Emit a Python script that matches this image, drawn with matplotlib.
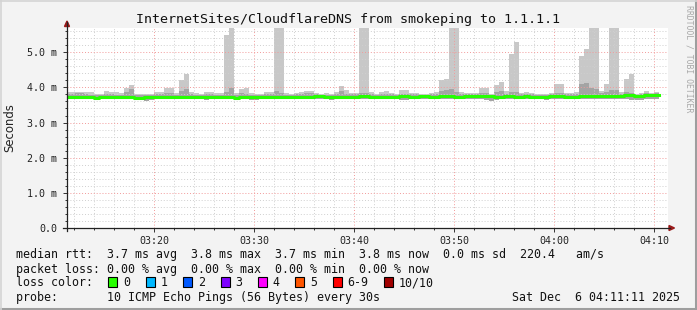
import numpy as np
import pandas as pd
import matplotlib
matplotlib.use("Agg")
import matplotlib.pyplot as plt
import matplotlib.dates as mdates
from matplotlib.ticker import MultipleLocator, FuncFormatter
from matplotlib.patches import Polygon, Rectangle
from matplotlib.lines import Line2D

# data: 30 s steps starting 03:11:00, values in ms
start = "2025-12-06 03:11:00"
rtt_max = [
    3.88, 3.88, 3.88, 3.88, 3.86, 3.86, 3.82, 3.82, 3.90, 3.88,
    3.86, 3.84, 3.97, 4.06, 3.82, 3.82, 3.80, 3.82, 3.86, 3.88,
    3.98, 3.98, 3.84, 4.20, 4.37, 3.88, 3.85, 3.82, 3.88, 3.88,
    3.84, 3.84, 5.48, 5.80, 3.85, 3.95, 3.98, 3.84, 3.80, 3.82,
    3.88, 3.88, 5.80, 5.80, 3.84, 3.82, 3.85, 3.88, 3.90, 3.90,
    3.85, 3.82, 3.84, 3.82, 3.88, 4.04, 3.92, 3.85, 3.85, 5.80,
    5.80, 3.88, 3.82, 3.86, 3.90, 3.85, 3.82, 3.92, 3.92, 3.85,
    3.84, 3.80, 3.80, 3.84, 3.88, 4.20, 4.23, 5.80, 5.80, 3.88,
    3.85, 3.84, 3.85, 3.99, 3.99, 3.82, 4.08, 4.15, 3.90, 4.96,
    5.30, 3.85, 3.88, 3.84, 3.82, 3.82, 3.80, 3.84, 4.10, 4.10,
    3.84, 3.84, 3.88, 4.90, 5.08, 5.80, 5.80, 3.90, 4.10, 5.80,
    5.80, 3.88, 4.23, 4.37, 3.82, 3.85, 3.90, 3.85, 3.88]
rtt_q75 = [
    3.80, 3.82, 3.85, 3.84, 3.80, 3.79, 3.77, 3.78, 3.80, 3.80,
    3.79, 3.79, 3.88, 3.95, 3.77, 3.77, 3.77, 3.78, 3.80, 3.80,
    3.85, 3.85, 3.79, 3.90, 3.95, 3.80, 3.78, 3.77, 3.80, 3.80,
    3.79, 3.79, 3.88, 3.98, 3.78, 3.84, 3.82, 3.79, 3.77, 3.78,
    3.80, 3.80, 3.90, 3.85, 3.79, 3.78, 3.80, 3.82, 3.85, 3.84,
    3.80, 3.78, 3.79, 3.78, 3.80, 3.90, 3.82, 3.80, 3.80, 3.85,
    3.85, 3.80, 3.78, 3.80, 3.82, 3.80, 3.78, 3.82, 3.82, 3.80,
    3.80, 3.78, 3.78, 3.80, 3.82, 3.90, 3.92, 3.95, 3.88, 3.82,
    3.80, 3.80, 3.80, 3.85, 3.85, 3.79, 3.88, 3.90, 3.82, 3.88,
    3.88, 3.80, 3.82, 3.80, 3.79, 3.79, 3.78, 3.80, 3.85, 3.85,
    3.80, 3.80, 3.82, 4.10, 4.13, 3.98, 3.95, 3.85, 3.88, 3.92,
    3.92, 3.82, 3.88, 3.85, 3.79, 3.80, 3.84, 3.82, 3.83]
rtt_min = [
    3.67, 3.67, 3.66, 3.66, 3.67, 3.67, 3.66, 3.66, 3.67, 3.67,
    3.67, 3.66, 3.66, 3.66, 3.65, 3.65, 3.62, 3.63, 3.67, 3.66,
    3.66, 3.66, 3.67, 3.67, 3.66, 3.66, 3.66, 3.66, 3.65, 3.66,
    3.66, 3.66, 3.67, 3.67, 3.65, 3.66, 3.66, 3.64, 3.65, 3.66,
    3.67, 3.67, 3.66, 3.66, 3.67, 3.67, 3.67, 3.66, 3.66, 3.67,
    3.67, 3.67, 3.66, 3.64, 3.66, 3.67, 3.67, 3.67, 3.66, 3.67,
    3.67, 3.67, 3.67, 3.66, 3.66, 3.66, 3.66, 3.64, 3.65, 3.67,
    3.67, 3.66, 3.66, 3.66, 3.67, 3.67, 3.67, 3.67, 3.68, 3.68,
    3.67, 3.67, 3.67, 3.66, 3.63, 3.62, 3.64, 3.66, 3.67, 3.67,
    3.67, 3.67, 3.67, 3.67, 3.66, 3.66, 3.65, 3.67, 3.67, 3.67,
    3.66, 3.66, 3.67, 3.67, 3.68, 3.68, 3.68, 3.68, 3.68, 3.67,
    3.67, 3.66, 3.66, 3.65, 3.64, 3.65, 3.67, 3.68, 3.68]
rtt_median = [
    3.74, 3.74, 3.74, 3.74, 3.74, 3.73, 3.71, 3.72, 3.73, 3.73,
    3.73, 3.73, 3.72, 3.72, 3.70, 3.70, 3.73, 3.73, 3.73, 3.72,
    3.73, 3.74, 3.74, 3.73, 3.73, 3.73, 3.72, 3.72, 3.74, 3.73,
    3.72, 3.72, 3.73, 3.73, 3.71, 3.74, 3.73, 3.73, 3.73, 3.73,
    3.73, 3.73, 3.73, 3.73, 3.74, 3.74, 3.73, 3.73, 3.74, 3.74,
    3.75, 3.75, 3.74, 3.74, 3.73, 3.74, 3.74, 3.73, 3.73, 3.75,
    3.75, 3.74, 3.73, 3.73, 3.74, 3.74, 3.74, 3.75, 3.75, 3.74,
    3.74, 3.75, 3.75, 3.74, 3.74, 3.75, 3.75, 3.75, 3.74, 3.74,
    3.75, 3.75, 3.75, 3.76, 3.76, 3.75, 3.74, 3.74, 3.75, 3.75,
    3.74, 3.74, 3.75, 3.74, 3.74, 3.73, 3.73, 3.75, 3.75, 3.75,
    3.74, 3.74, 3.74, 3.75, 3.75, 3.75, 3.75, 3.76, 3.75, 3.75,
    3.76, 3.76, 3.77, 3.77, 3.76, 3.76, 3.78, 3.78, 3.79]

loss_labels = ["0", "1", "2", "3", "4", "5", "6-9", "10/10"]
loss_colors = ["#26ff00", "#00b8ff", "#0059ff", "#7e00ff", "#ff00ff",
               "#ff5500", "#ff0000", "#a10000"]

title = "InternetSites/CloudflareDNS from smokeping to 1.1.1.1"
line1 = "median rtt:  3.7 ms avg  3.8 ms max  3.7 ms min  3.8 ms now  0.0 ms sd  220.4   am/s"
line2 = "packet loss: 0.00 % avg  0.00 % max  0.00 % min  0.00 % now"
line4 = "probe:       10 ICMP Echo Pings (56 Bytes) every 30s"
stamp = "Sat Dec  6 04:11:11 2025"

W, H = 697, 310
mono = "DejaVu Sans Mono"

def fx(px):
    return px / W

def fy(py):
    return 1 - py / H

fig = plt.figure(figsize=(W / 100, H / 100), dpi=100, facecolor="#f3f3f3")
ax = fig.add_axes([fx(67), fy(228), (668 - 67) / W, (228 - 28) / H])
ax.set_facecolor("white")

times = pd.date_range(start, periods=len(rtt_max), freq="30s")
x = mdates.date2num(times.to_pydatetime())
step = 30 / 86400
top = np.array(rtt_max)
q75 = np.array(rtt_q75)
low = np.array(rtt_min)
med = np.array(rtt_median)

ax.bar(x, top - q75, bottom=q75, width=step, align="edge", color="#c8c8c8", linewidth=0, zorder=1)
ax.bar(x, q75 - low, bottom=low, width=step, align="edge", color="#a4a4a4", linewidth=0, zorder=1)
xs = np.append(x, x[-1] + step)
ys = np.append(med, med[-1])
ax.step(xs, ys, where="post", color=loss_colors[0], lw=2.2, zorder=3)

ax.set_ylim(0, 5.69)
ax.set_xlim(mdates.date2num(pd.Timestamp("2025-12-06 03:11:16")),
            mdates.date2num(pd.Timestamp("2025-12-06 04:11:22")))

ax.yaxis.set_major_locator(MultipleLocator(1))
ax.yaxis.set_minor_locator(MultipleLocator(0.2))
ax.xaxis.set_major_locator(mdates.MinuteLocator(byminute=range(0, 60, 10)))
ax.xaxis.set_minor_locator(mdates.MinuteLocator(byminute=range(0, 60, 2)))
ax.xaxis.set_major_formatter(mdates.DateFormatter("%H:%M"))
ax.yaxis.set_major_formatter(FuncFormatter(lambda v, p: "0.0" if v == 0 else "%.1f m" % v))

ax.grid(which="minor", color="#cfcfcf", linestyle=(0, (1, 2)), lw=0.7, zorder=2)
ax.grid(which="major", color="#f29a9a", linestyle=(0, (1, 2)), lw=0.7, zorder=2)
ax.set_axisbelow(False)

for s in ax.spines.values():
    s.set_visible(False)
ax.tick_params(which="major", length=3, width=0.7, color="#333333", labelsize=7.2, pad=3)
ax.tick_params(which="minor", length=1.5, width=0.7, color="#333333")
ax.tick_params(axis="y", pad=4)
for lab in ax.get_xticklabels() + ax.get_yticklabels():
    lab.set_fontfamily(mono)
    lab.set_color("#222222")

# axis lines with arrows
fig.add_artist(Line2D([fx(67), fx(67)], [fy(231), fy(22)], color="#222222", lw=0.9))
fig.add_artist(Line2D([fx(63), fx(670)], [fy(228), fy(228)], color="#222222", lw=0.9))
fig.add_artist(Polygon([[fx(64.5), fy(26.5)], [fx(69.5), fy(26.5)], [fx(67), fy(21)]],
                       closed=True, color="#9a1a1a", transform=fig.transFigure))
fig.add_artist(Polygon([[fx(669), fy(225.5)], [fx(669), fy(230.5)], [fx(674.5), fy(228)]],
                       closed=True, color="#9a1a1a", transform=fig.transFigure))

fig.text(0.5, fy(23), title, ha="center", va="baseline", fontsize=9.6, family=mono, color="#111111")
fig.text(fx(10), fy(128), "Seconds", rotation=90, ha="center", va="center", fontsize=8.4,
         family="DejaVu Sans", color="#222222")
fig.text(fx(688.5), fy(59), "RRDTOOL / TOBI OETIKER", rotation=270, ha="center", va="center",
         fontsize=5.9, family=mono, color="#a8a8a8")

fs = 8.4
fig.text(fx(16), fy(257.7), line1, ha="left", va="baseline", fontsize=fs, family=mono, color="#111111")
fig.text(fx(16), fy(272.5), line2, ha="left", va="baseline", fontsize=fs, family=mono, color="#111111")
fig.text(fx(16), fy(286.3), "loss color:", ha="left", va="baseline", fontsize=fs, family=mono, color="#111111")
fig.text(fx(16), fy(300.7), line4, ha="left", va="baseline", fontsize=fs, family=mono, color="#111111")
fig.text(fx(680), fy(300.7), stamp, ha="right", va="baseline", fontsize=fs, family=mono, color="#111111")

bx = 108.3
for lab, col in zip(loss_labels, loss_colors):
    fig.add_artist(Rectangle((fx(bx), fy(286.5)), 9 / W, 9.5 / H, transform=fig.transFigure,
                             facecolor=col, edgecolor="black", lw=0.8))
    fig.text(fx(bx + 15), fy(286.3), lab, ha="left", va="baseline", fontsize=fs, family=mono,
             color="#111111")
    bx = bx + 15 + 7 * len(lab) + 15.4

# frame
fig.add_artist(Line2D([0, 1], [fy(309), fy(309)], color="#9e9e9e", lw=2.2))
fig.add_artist(Line2D([fx(696), fx(696)], [0, 1], color="#9e9e9e", lw=2.2))
fig.add_artist(Line2D([0, 1], [fy(0.7), fy(0.7)], color="#d4d4d4", lw=1.2))
fig.add_artist(Line2D([fx(0.7), fx(0.7)], [0, 1], color="#d4d4d4", lw=1.2))

fig.savefig("out.png", dpi=100, facecolor=fig.get_facecolor())
